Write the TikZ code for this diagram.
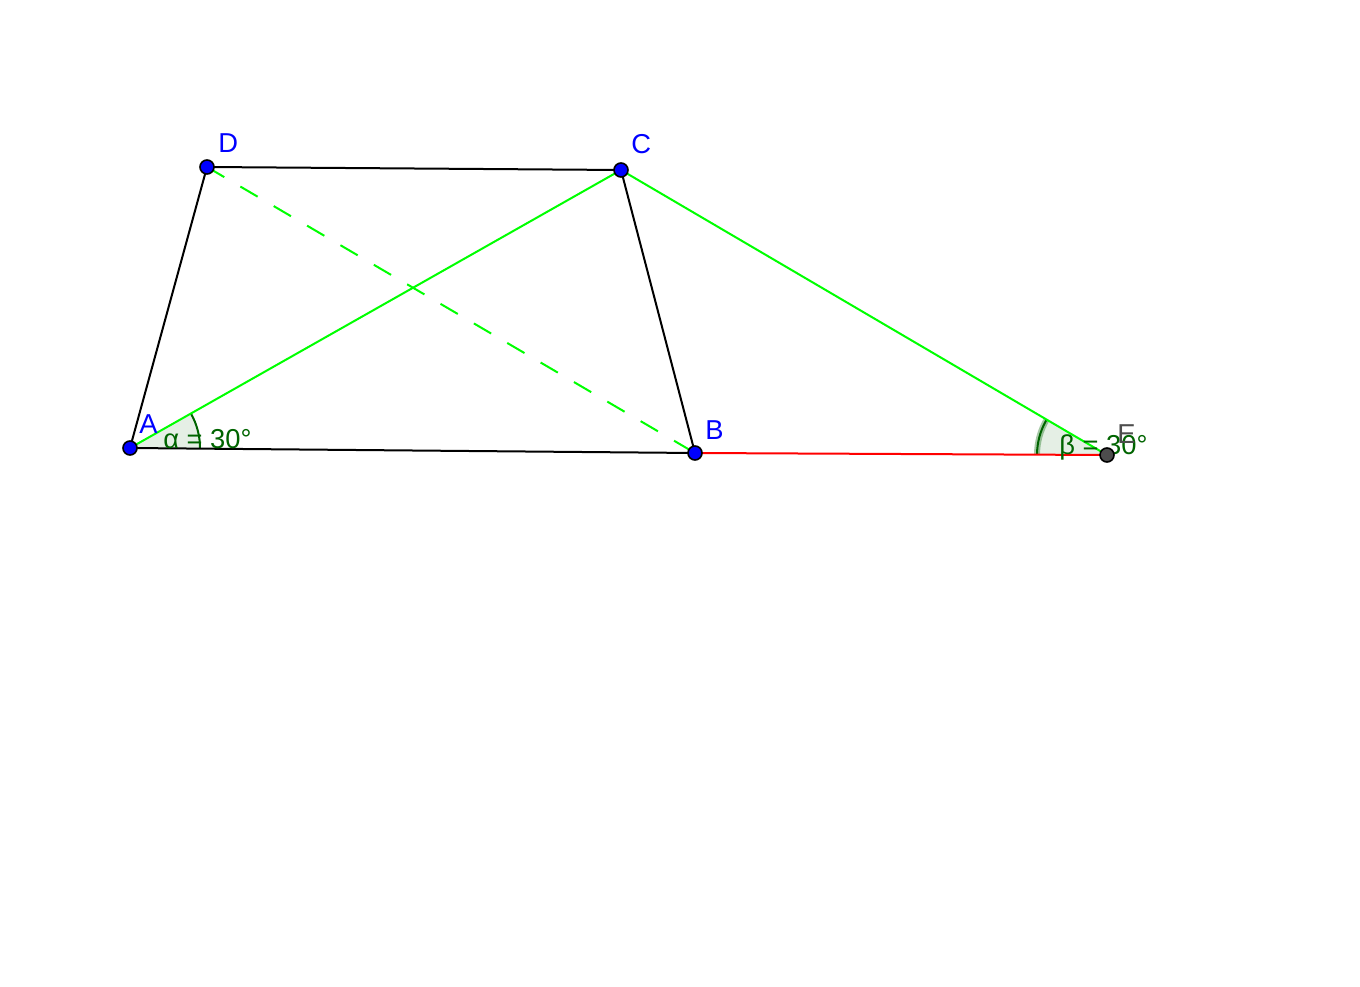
\documentclass[tikz,border=0pt]{standalone}
\usepackage{fontspec}
\setmainfont{Liberation Sans}
\usetikzlibrary{angles}
\definecolor{ptblue}{RGB}{0,0,255}
\definecolor{ptgray}{RGB}{77,77,77}
\definecolor{geogreen}{RGB}{0,255,0}
\definecolor{anglegreen}{RGB}{0,100,0}
\begin{document}
\begin{tikzpicture}[x=0.75pt, y=-0.75pt,
      every node/.style={font=\fontsize{20.5}{24}\selectfont},
      lab/.style={anchor=base west, inner sep=0pt},
      point/.style={circle, draw=black, line width=1.2pt, inner sep=0pt, minimum size=10.5pt},
      seg/.style={line width=1.5pt},
      angsec/.style={draw=anglegreen, line width=1.5pt, fill=anglegreen, fill opacity=0.1, angle radius=52.5pt}]
  \useasboundingbox (0,0) rectangle (1360,987);
  % points
  \coordinate (A) at (130,448);
  \coordinate (B) at (695,453);
  \coordinate (C) at (621,170);
  \coordinate (D) at (207,167);
  \coordinate (E) at (1107,455);
  % angles
  \pic [angsec] {angle = B--A--C};
  \pic [draw=anglegreen, draw opacity=0.35, line width=4.5pt, angle radius=52.5pt] {angle = C--E--B};
  \pic [angsec] {angle = C--E--B};
  % segments
  \draw [seg, red] (B) -- (E);
  \draw [seg, geogreen] (C) -- (E);
  \draw [seg, geogreen] (A) -- (C);
  \draw [seg, geogreen, dash pattern=on 15pt off 14pt] (D) -- (B);
  \draw [seg] (A) -- (B) -- (C) -- (D) -- cycle;
  % labels
  \node [lab, anglegreen] (alpha) at (163,448) {α = 30°};
  \node [lab, anglegreen] (beta) at (1059,455) {β = 30°};
  \foreach \p/\x/\y in {A/139/433, B/705/440, C/631/154, D/218/153} {
    \node [lab, ptblue] (lab\p) at (\x,\y) {\p};
  }
  \node [lab, ptgray] (labE) at (1117,443) {E};
  \foreach \p in {A,B,C,D} {
    \node [point, fill=ptblue] (pt\p) at (\p) {};
  }
  \node [point, fill=ptgray] (ptE) at (E) {};
\end{tikzpicture}
\end{document}
